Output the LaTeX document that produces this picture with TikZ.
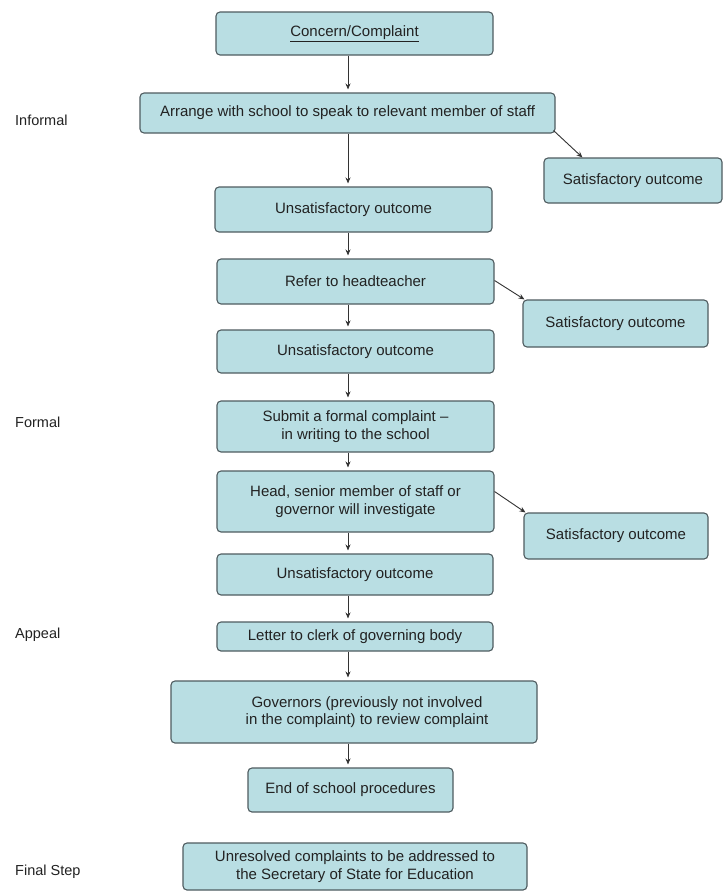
\documentclass[tikz,border=0pt]{standalone}
\usepackage{fontspec}
\setmainfont{Liberation Sans}
\usetikzlibrary{calc,arrows.meta}
\definecolor{boxfill}{HTML}{B9DEE3}
\definecolor{boxline}{HTML}{4F5C60}
\definecolor{txt}{HTML}{222222}
\definecolor{arrowcol}{HTML}{333333}
\tikzset{
  stepbox/.style={draw=boxline, fill=boxfill, line width=1.1pt, rounded corners=4pt,
    inner sep=0pt, align=center, text=txt, font=\fontsize{15}{17.5}\selectfont},
  sidelabel/.style={anchor=west, text=txt, font=\fontsize{14.5}{17}\selectfont, inner sep=0pt},
  arr/.style={draw=arrowcol, line width=0.9pt, shorten >=3pt, -{Stealth[length=6pt,width=5pt]}}
}
\begin{document}
\begin{tikzpicture}[x=1pt,y=-1pt]
\useasboundingbox (0,0) rectangle (724,892);
\fill[white] (0,0) rectangle (724,892);

\node[stepbox, minimum width=277, minimum height=43] (concern) at (354.5,33.5) {\underline{Concern/Complaint}};
\node[stepbox, minimum width=415, minimum height=40] (arrange) at (347.5,113) {Arrange with school to speak to relevant member of staff};
\node[stepbox, minimum width=178, minimum height=45] (sat1) at (633,180.5) {Satisfactory outcome};
\node[stepbox, minimum width=277, minimum height=45] (unsat1) at (353.5,209.5) {Unsatisfactory outcome};
\node[stepbox, minimum width=277, minimum height=45] (refer) at (355.5,281.5) {Refer to headteacher};
\node[stepbox, minimum width=185, minimum height=47] (sat2) at (615.5,323.5) {Satisfactory outcome};
\node[stepbox, minimum width=277, minimum height=43] (unsat2) at (355.5,351.5) {Unsatisfactory outcome};
\node[stepbox, minimum width=277, minimum height=51] (submit) at (355.5,426.5) {Submit a formal complaint --\\in writing to the school};
\node[stepbox, minimum width=277, minimum height=61] (head) at (355.5,501.5) {Head, senior member of staff or\\governor will investigate};
\node[stepbox, minimum width=184, minimum height=46] (sat3) at (616,536) {Satisfactory outcome};
\node[stepbox, minimum width=276, minimum height=41] (unsat3) at (355,574.5) {Unsatisfactory outcome};
\node[stepbox, minimum width=276, minimum height=29] (letter) at (355,636.5) {Letter to clerk of governing body};
\node[stepbox, minimum width=366, minimum height=62] (gov) at (354,712) {\hspace*{26pt}Governors (previously not involved\\\hspace*{26pt}in the complaint) to review complaint};
\node[stepbox, minimum width=205, minimum height=44] (endproc) at (350.5,790) {End of school procedures};
\node[stepbox, minimum width=344, minimum height=47] (unres) at (355,866.5) {Unresolved complaints to be addressed to\\the Secretary of State for Education};

\node[sidelabel] (linformal) at (15,120) {Informal};
\node[sidelabel] (lformal) at (15,422) {Formal};
\node[sidelabel] (lappeal) at (15,635) {Appeal};
\node[sidelabel] (lfinal) at (15,872) {Final Step};

\coordinate (ax) at (348,0);
\draw[arr] (concern.south -| ax) -- (arrange.north -| ax);
\draw[arr] (arrange.south -| ax) -- (unsat1.north -| ax);
\draw[arr] (unsat1.south -| ax) -- (refer.north -| ax);
\draw[arr] (refer.south -| ax) -- (unsat2.north -| ax);
\draw[arr] (unsat2.south -| ax) -- (submit.north -| ax);
\draw[arr] (submit.south -| ax) -- (head.north -| ax);
\draw[arr] (head.south -| ax) -- (unsat3.north -| ax);
\draw[arr] (unsat3.south -| ax) -- (letter.north -| ax);
\draw[arr] (letter.south -| ax) -- (gov.north -| ax);
\draw[arr] (gov.south -| ax) -- (endproc.north -| ax);

\draw[arr, shorten >=0pt] ($(arrange.south east)+(-2,-3)$) -- ($(sat1.north west)+(39,0)$);
\draw[arr, shorten >=0pt] ($(refer.east)+(0,-1)$) -- ($(sat2.north west)+(2,0)$);
\draw[arr, shorten >=0pt] ($(head.east)+(0,-10)$) -- ($(sat3.north west)+(2,0)$);
\end{tikzpicture}
\end{document}
